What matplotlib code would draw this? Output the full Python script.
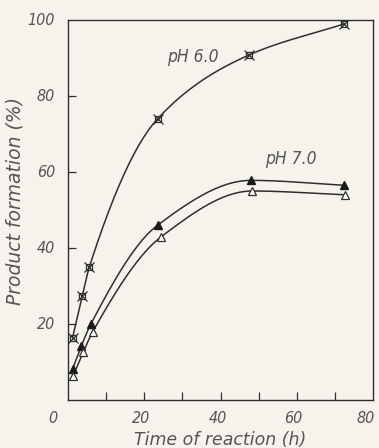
import numpy as np
import matplotlib.pyplot as plt

# data
t_ph6 = [1.2, 3.8, 5.6, 23.5, 47.5, 72.5]
y_ph6 = [16.4, 27.5, 35.0, 74.0, 90.8, 99.0]

t_ph7a = [1.2, 3.5, 6.0, 23.5, 48.0, 72.5]
y_ph7a = [8.2, 14.2, 20.0, 46.0, 57.8, 56.5]

t_ph7b = [1.3, 4.0, 6.5, 24.5, 48.3, 72.7]
y_ph7b = [6.3, 12.6, 18.0, 43.0, 55.0, 54.0]

xticks = [20, 40, 60, 80]
yticks = [20, 40, 60, 80, 100]

bg = '#f5f3ec'
ink = '#2e2e2e'
txt = '#555555'


def pchip(x, y, n=40):
    # monotone cubic hermite curve through the measured points
    x = np.asarray(x, float)
    y = np.asarray(y, float)
    h = np.diff(x)
    d = np.diff(y) / h
    m = np.zeros_like(y)
    for k in range(1, len(x) - 1):
        if d[k-1] * d[k] > 0:
            w1 = 2*h[k] + h[k-1]
            w2 = h[k] + 2*h[k-1]
            m[k] = (w1 + w2) / (w1/d[k-1] + w2/d[k])
    m[0] = d[0]
    m[-1] = d[-1]
    xs, ys = [], []
    for k in range(len(x) - 1):
        s = np.linspace(0, 1, n)
        h00 = 2*s**3 - 3*s**2 + 1
        h10 = s**3 - 2*s**2 + s
        h01 = -2*s**3 + 3*s**2
        h11 = s**3 - s**2
        xs.extend(x[k] + s*h[k])
        ys.extend(h00*y[k] + h10*h[k]*m[k] + h01*y[k+1] + h11*h[k]*m[k+1])
    return xs, ys


plt.rcParams['font.family'] = 'DejaVu Sans'
plt.rcParams['font.stretch'] = 'condensed'
fig = plt.figure(figsize=(3.79, 4.48), dpi=100, facecolor=bg)
ax = fig.add_axes([68/379, 48/448, 305/379, 380/448], facecolor=bg)

for tx, ty in ((t_ph6, y_ph6), (t_ph7a, y_ph7a), (t_ph7b, y_ph7b)):
    sx, sy = pchip(tx, ty)
    ax.plot(sx, sy, color=ink, lw=1.1, zorder=2)

ax.plot(t_ph6, y_ph6, 's', ms=4.5, mfc='none', mec=ink, mew=0.9, zorder=3)
ax.plot(t_ph6, y_ph6, 'x', ms=6.5, color=ink, mew=0.9, zorder=3)
ax.plot(t_ph7a, y_ph7a, '^', ms=6, color='#1a1a1a', zorder=3)
ax.plot(t_ph7b, y_ph7b, '^', ms=6, mfc='white', mec=ink, mew=0.9, zorder=3)

ax.set_xlim(0, 80)
ax.set_ylim(0, 100)
ax.set_xticks(range(10, 80, 10))
ax.set_xticklabels([])
ax.set_yticks(yticks[:-1])
ax.set_yticklabels([])
ax.tick_params(direction='in', length=6, width=0.9, color=ink)
for sp in ax.spines.values():
    sp.set_color(ink)
    sp.set_linewidth(1.0)

fs = 11.5
for v in xticks:
    ax.text(min(v - 0.8, 78.0), -2.8, str(v), ha='center', va='top',
            fontsize=fs, style='italic', color=txt, clip_on=False)
for v in yticks:
    ax.text(-3.4, v, str(v), ha='right', va='center', fontsize=fs,
            style='italic', color=txt, clip_on=False)
ax.text(-2.8, -2.8, '0', ha='right', va='top', fontsize=fs, style='italic',
        color=txt, clip_on=False)

ax.text(40, -8.2, 'Time of reaction (h)', ha='center', va='top',
        fontsize=12.5, fontstretch='normal', style='italic', color=txt,
        clip_on=False)
ax.text(-14, 52.5, 'Product formation (%)', ha='center', va='center',
        rotation=90, fontsize=13.5, fontstretch='normal', style='italic',
        color=txt, clip_on=False)

ax.text(26, 90.3, 'pH 6.0', ha='left', va='center', fontsize=12.5,
        style='italic', color=txt)
ax.text(51.8, 63.3, 'pH 7.0', ha='left', va='center', fontsize=12.5,
        style='italic', color=txt)

fig.savefig('out.png', dpi=100, facecolor=bg)
